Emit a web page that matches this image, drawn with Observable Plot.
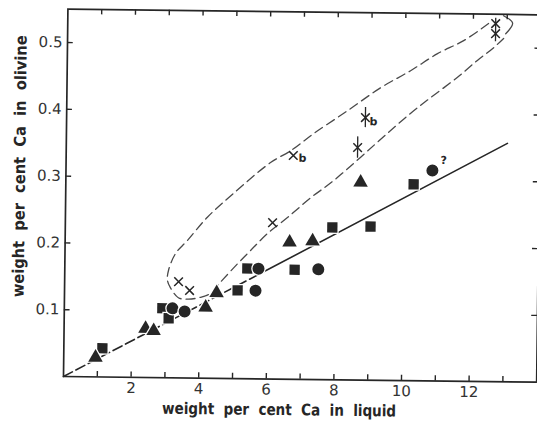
<!DOCTYPE html>
<html><head><meta charset="utf-8">
<script src="https://cdn.jsdelivr.net/npm/d3@7"></script>
<script src="https://cdn.jsdelivr.net/npm/@observablehq/plot@0.6"></script>
<style>
body{margin:0;background:#fff;}
#chart svg{display:block;transform-origin:63px 376px;transform:rotate(0.69deg);}
</style></head><body><div id="chart"></div>
<script>
// filled triangles
const triX = [0.94, 2.41, 2.65, 4.18, 4.50, 6.64, 7.32, 8.72];
const triY = [0.029, 0.073, 0.070, 0.106, 0.128, 0.205, 0.207, 0.296];
// filled squares
const sqX = [1.14, 2.90, 3.09, 5.12, 5.40, 6.80, 7.90, 9.03, 10.29];
const sqY = [0.043, 0.104, 0.089, 0.132, 0.165, 0.164, 0.228, 0.230, 0.294];
// filled circles
const circX = [3.20, 3.56, 5.65, 5.73, 7.50, 10.84];
const circY = [0.104, 0.0995, 0.132, 0.165, 0.165, 0.315];
// crosses
const crossX = [3.37, 3.70, 6.13, 6.72, 8.62, 8.84, 12.66, 12.66];
const crossY = [0.144, 0.131, 0.234, 0.335, 0.348, 0.393, 0.536, 0.521];
// vertical bars through some crosses
const barX = [8.62, 8.84, 12.66];
const barY1 = [0.332, 0.378, 0.509];
const barY2 = [0.364, 0.408, 0.544];
// small annotations
const noteX = [6.99, 9.08, 11.17];
const noteY = [0.331, 0.387, 0.330];
const noteText = ["b", "b", "?"];
// fitted line (dashed lower part, solid upper part)
const fitX = [0, 5.8, 13.05];
const fitY = [0, 0.158, 0.357];
// dashed envelope around crosses
const loopX = [12.45, 11.72, 10.95, 10.16, 9.28, 8.31, 7.31, 6.64, 6.05, 4.96, 4.20, 3.62, 3.27, 3.07, 3.04, 3.13, 3.37, 3.67, 4.02, 4.32, 4.61, 5.11, 5.49, 5.99, 6.57, 7.25, 7.92, 9.50, 10.17, 10.76, 11.55, 12.14, 12.61, 12.90];
const loopY = [0.536, 0.510, 0.490, 0.464, 0.438, 0.403, 0.368, 0.342, 0.324, 0.277, 0.241, 0.206, 0.186, 0.161, 0.146, 0.135, 0.120, 0.118, 0.121, 0.127, 0.144, 0.172, 0.192, 0.218, 0.242, 0.272, 0.298, 0.370, 0.400, 0.424, 0.455, 0.481, 0.500, 0.514];
const hookX = [12.89, 13.16, 12.96];
const hookY = [0.548, 0.537, 0.521];
// axes
const xTicks = [1, 2, 3, 4, 5, 6, 7, 8, 9, 10, 11, 12, 13];
const xLabels = [2, 4, 6, 8, 10, 12];
const yTicks = [0.1, 0.2, 0.3, 0.4, 0.5];
const xDomain = [0, 14];
const yDomain = [0, 0.55];
const xTitle = "weight  per  cent  Ca  in  liquid";
const yTitle = "weight  per  cent  Ca  in  olivine";

const pts = (xs, ys) => xs.map((x, i) => ({x, y: ys[i]}));
const tri = pts(triX, triY), sq = pts(sqX, sqY), circ = pts(circX, circY), cross = pts(crossX, crossY);
const bars = barX.map((x, i) => ({x, y1: barY1[i], y2: barY2[i]}));
const notes = noteX.map((x, i) => ({x, y: noteY[i], t: noteText[i]}));
const fit = pts(fitX, fitY);
const loop = pts(loopX, loopY);
const hook = pts(hookX, hookY);

const ink = "#262626";
const tickLenY = 0.008, tickLenX = 0.17;
const halo = {stroke: "white", strokeWidth: 2.5, paintOrder: "stroke"};
const condensed = "'DejaVu Sans Condensed', 'Liberation Sans Narrow', 'Roboto Condensed', sans-serif";

const chart = Plot.plot({
  width: 537, height: 427,
  marginLeft: 63, marginRight: 0.8, marginTop: 8.6, marginBottom: 51,
  style: {fontFamily: "'DejaVu Sans', sans-serif", fontSize: "15px", color: "#333", background: "#fff"},
  x: {domain: xDomain, axis: null},
  y: {domain: yDomain, axis: null},
  marks: [
    // fitted line
    Plot.line(fit.slice(0, 2), {x: "x", y: "y", stroke: ink, strokeWidth: 1.6, strokeDasharray: "10,4"}),
    Plot.line(fit.slice(1), {x: "x", y: "y", stroke: ink, strokeWidth: 1.6}),
    // envelope
    Plot.line(loop, {x: "x", y: "y", curve: "catmull-rom", stroke: "#4a4a4a", strokeWidth: 1.3, strokeDasharray: "9,5"}),
    Plot.line(hook, {x: "x", y: "y", curve: "catmull-rom", stroke: "#4a4a4a", strokeWidth: 1.3}),
    // markers
    Plot.dot(sq, {x: "x", y: "y", symbol: "square", r: 5.8, fill: ink, ...halo}),
    Plot.dot(circ, {x: "x", y: "y", symbol: "circle", r: 6, fill: ink, ...halo}),
    Plot.dot(tri, {x: "x", y: "y", symbol: "triangle", r: 5.4, fill: ink, ...halo}),
    Plot.ruleX(bars, {x: "x", y1: "y1", y2: "y2", stroke: ink, strokeWidth: 1.3}),
    Plot.dot(cross, {x: "x", y: "y", symbol: "times", r: 4, stroke: ink, strokeWidth: 1.5}),
    Plot.text(notes, {x: "x", y: "y", text: "t", fontSize: 11, fontWeight: "bold", fill: ink}),
    // frame and inward ticks
    Plot.frame({stroke: ink, strokeWidth: 1.7}),
    Plot.ruleX(xTicks, {x: d => d, y1: yDomain[0], y2: yDomain[0] + tickLenY, stroke: ink, strokeWidth: 1.4}),
    Plot.ruleX(xTicks, {x: d => d, y1: yDomain[1] - tickLenY, y2: yDomain[1], stroke: ink, strokeWidth: 1.4}),
    Plot.ruleY(yTicks, {y: d => d, x1: xDomain[0], x2: xDomain[0] + tickLenX, stroke: ink, strokeWidth: 1.4}),
    Plot.ruleY(yTicks, {y: d => d, x1: xDomain[1] - tickLenX, x2: xDomain[1], stroke: ink, strokeWidth: 1.4}),
    // tick labels
    Plot.axisX({ticks: xLabels, tickSize: 0, tickPadding: 5, tickFormat: d => String(d), label: null, fontSize: 15}),
    Plot.axisY({ticks: yTicks, tickSize: 0, tickPadding: 5, tickFormat: d3.format(".1f"), label: null, fontSize: 15}),
    // axis titles
    Plot.text([xTitle], {frameAnchor: "bottom", textAnchor: "middle", dx: -20.6, dy: 36, fontSize: 16, fontWeight: "bold", fill: ink, fontFamily: condensed}),
    Plot.text([yTitle], {frameAnchor: "left", textAnchor: "middle", dx: -46, dy: -26, rotate: -90, fontSize: 16, fontWeight: "bold", fill: ink, fontFamily: condensed})
  ]
});
document.getElementById("chart").appendChild(chart);
const svg = d3.select(chart);
svg.selectAll("text").each(function() {
  const t = this.textContent;
  if (t === xTitle) { d3.select(this).attr("textLength", 234).attr("lengthAdjust", "spacingAndGlyphs").style("font-stretch", "condensed"); }
  if (t === yTitle) { d3.select(this).attr("textLength", 262).attr("lengthAdjust", "spacingAndGlyphs").style("font-stretch", "condensed"); }
});
</script></body></html>
